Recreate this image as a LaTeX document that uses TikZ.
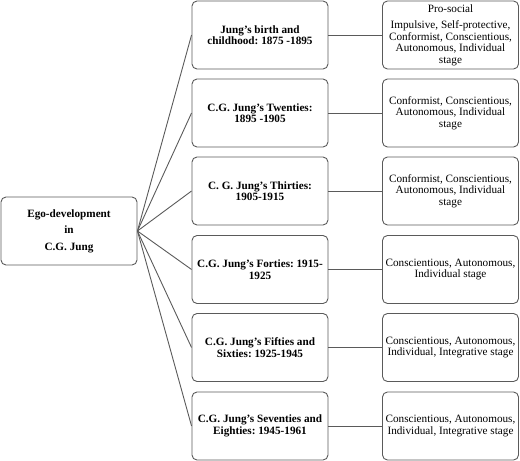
\documentclass[tikz,border=0pt]{standalone}
\usepackage{fontspec}
\setmainfont{Liberation Serif}
\frenchspacing
\definecolor{edge}{HTML}{5A5A5A}
\begin{document}
\begin{tikzpicture}[x=1pt,y=1pt,
  box/.style={draw=edge, line width=0.9pt, rounded corners=5pt, minimum width=136pt, minimum height=68pt, inner sep=1pt, align=center, font=\fontsize{11.2}{11.5}\selectfont},
  midbox/.style={box, font=\fontsize{11.2}{11.5}\selectfont\bfseries},
  link/.style={draw=edge, line width=0.9pt}]
\useasboundingbox (0,0) rectangle (520,-461);
\node[midbox] (root) at (69,-231) {Ego-development\\[5pt] in\\[5pt] C.G. Jung};
\node[midbox] (m1) at (260,-35) {Jung’s birth and\\ childhood: 1875 -1895};
\node[midbox] (m2) at (260,-113) {C.G. Jung’s Twenties:\\ 1895 -1905};
\node[midbox] (m3) at (260,-191) {C. G. Jung’s Thirties:\\ 1905-1915};
\node[midbox] (m4) at (260,-269.5) {C.G. Jung’s Forties: 1915-\\ 1925};
\node[midbox] (m5) at (260,-347.5) {C.G. Jung’s Fifties and\\ Sixties: 1925-1945};
\node[midbox] (m6) at (260,-426) {C.G. Jung’s Seventies and\\ Eighties: 1945-1961};
\node[box] (r1) at (450.5,-35) {Pro-social\\[5pt] Impulsive, Self-protective,\\ Conformist, Conscientious,\\ Autonomous, Individual\\ stage};
\node[box] (r2) at (450.5,-113) {Conformist, Conscientious,\\ Autonomous, Individual\\ stage};
\node[box] (r3) at (450.5,-191) {Conformist, Conscientious,\\ Autonomous, Individual\\ stage};
\node[box] (r4) at (450.5,-269.5) {Conscientious, Autonomous,\\ Individual stage};
\node[box] (r5) at (450.5,-347.5) {Conscientious, Autonomous,\\ Individual, Integrative stage};
\node[box] (r6) at (450.5,-426) {Conscientious, Autonomous,\\ Individual, Integrative stage};
\foreach \i in {1,...,6} {
  \draw[link] (root.east) -- (m\i.west);
  \draw[link] (m\i.east) -- (r\i.west);
}
\end{tikzpicture}
\end{document}
